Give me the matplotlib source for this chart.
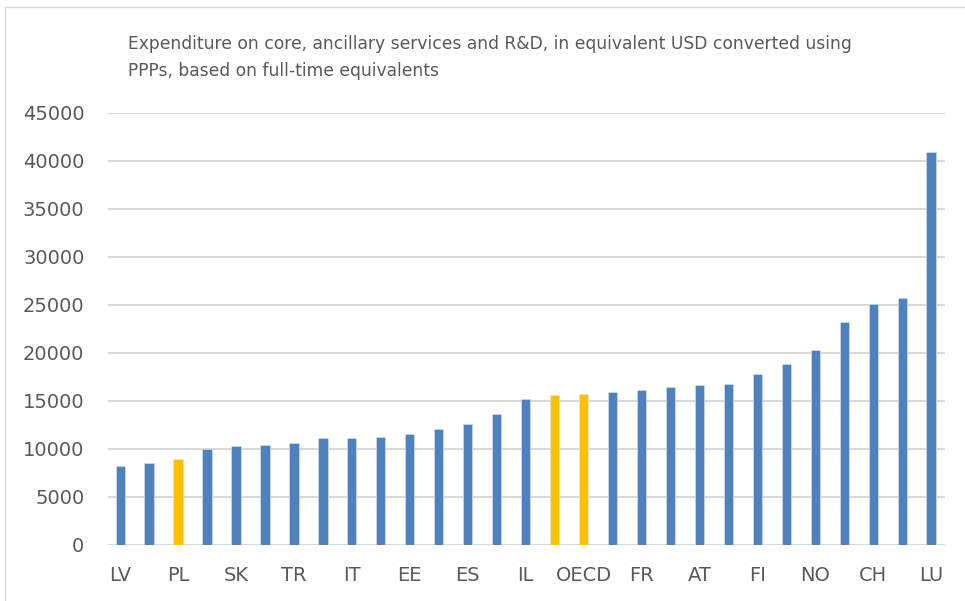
import matplotlib
matplotlib.use("Agg")
from matplotlib import pyplot as plt
from matplotlib.lines import Line2D
import numpy as np

# data
countries = ["LV", "", "PL", "", "SK", "", "TR", "", "IT", "", "EE", "", "ES", "", "IL",
             "", "OECD", "", "FR", "", "AT", "", "FI", "", "NO", "", "CH", "", "LU"]
values = [8200, 8550, 8960, 9970, 10310, 10420, 10630, 11110, 11180, 11250,
          11600, 12050, 12600, 13650, 15170, 15600, 15730, 15900, 16180, 16420,
          16620, 16820, 17800, 18900, 20300, 23200, 25100, 25700, 40900]
highlight = [2, 15, 16]  # PL and the two OECD averages

title = ("Expenditure on core, ancillary services and R&D, in equivalent USD converted using\n"
         "PPPs, based on full-time equivalents")

plt.rcParams['font.family'] = ['DejaVu Sans']

fig = plt.figure(figsize=(9.65, 6.01), dpi=100)
ax = fig.add_axes([108 / 965, 1 - 545 / 601, (945 - 108) / 965, (545 - 113) / 601])

x = np.arange(len(values))
colors = ['#FFC000' if i in highlight else '#4F81BD' for i in x]
ax.bar(x, values, width=0.32, color=colors, edgecolor='#DCE6F2', linewidth=0.4, zorder=3)

ax.set_ylim(0, 45000)
ax.set_xlim(-0.42, len(values) - 0.52)
ax.set_yticks(np.arange(0, 45001, 5000))
ax.yaxis.grid(True, color='#D9D9D9', linewidth=1.5, zorder=0)
ax.set_xticks(x)
ax.set_xticklabels(countries)
ax.tick_params(axis='both', length=0, labelsize=14, labelcolor='#595959')
ax.tick_params(axis='x', pad=15)
ax.tick_params(axis='y', pad=17)
for s in ax.spines.values():
    s.set_visible(False)

fig.text(128 / 965, 1 - 35 / 601, title, fontsize=12.3, color='#595959',
         va='top', ha='left', linespacing=1.65)

# light chart border (top and left only, the rest is cut off in the reference)
top = 1 - 7 / 601
left = 5 / 965
fig.add_artist(Line2D([left, 1], [top, top], transform=fig.transFigure, color='#D9D9D9', linewidth=1))
fig.add_artist(Line2D([left, left], [0, top], transform=fig.transFigure, color='#D9D9D9', linewidth=1))

fig.savefig("out.png", dpi=100)
